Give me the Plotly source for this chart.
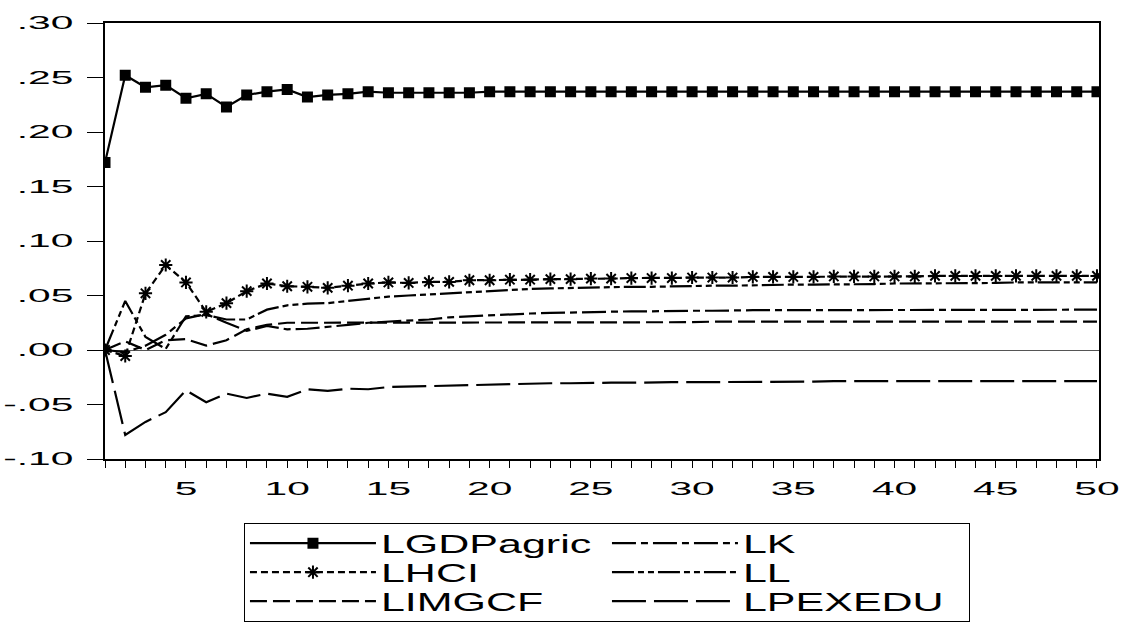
import plotly.graph_objects as go

periods = list(range(1, 51))

lgdpagric = [0.172, 0.252, 0.241, 0.243, 0.231, 0.235, 0.223, 0.234, 0.237, 0.239,
             0.232, 0.234, 0.235, 0.237, 0.236, 0.236, 0.236, 0.236, 0.236, 0.237,
             0.237, 0.237, 0.237, 0.237, 0.237, 0.237, 0.237, 0.237, 0.237, 0.237,
             0.237, 0.237, 0.237, 0.237, 0.237, 0.237, 0.237, 0.237, 0.237, 0.237,
             0.237, 0.237, 0.237, 0.237, 0.237, 0.237, 0.237, 0.237, 0.237, 0.237]

lk = [0.000, -0.002, 0.004, 0.014, 0.029, 0.033, 0.025, 0.0175, 0.022, 0.019,
      0.0195, 0.021, 0.023, 0.025, 0.026, 0.027, 0.028, 0.030, 0.031, 0.032,
      0.033, 0.0335, 0.034, 0.0345, 0.035, 0.035, 0.0355, 0.0355, 0.036, 0.036,
      0.036, 0.0365, 0.0365, 0.0365, 0.0365, 0.037, 0.037, 0.037, 0.037, 0.037,
      0.037, 0.037, 0.037, 0.037, 0.037, 0.037, 0.037, 0.037, 0.037, 0.037]

lhci = [0.000, -0.0055, 0.052, 0.078, 0.062, 0.035, 0.043, 0.054, 0.061, 0.0585,
        0.058, 0.057, 0.059, 0.061, 0.062, 0.0615, 0.0625, 0.0625, 0.064, 0.064,
        0.0645, 0.0645, 0.065, 0.065, 0.0655, 0.0655, 0.066, 0.066, 0.066, 0.0665,
        0.0665, 0.0665, 0.067, 0.067, 0.067, 0.067, 0.0675, 0.0675, 0.0675, 0.0675,
        0.0675, 0.068, 0.068, 0.068, 0.068, 0.068, 0.068, 0.068, 0.068, 0.068]

ll = [0.000, 0.045, 0.012, 0.001, 0.031, 0.032, 0.028, 0.028, 0.037, 0.041,
      0.0425, 0.043, 0.045, 0.047, 0.049, 0.050, 0.051, 0.052, 0.053, 0.054,
      0.0555, 0.056, 0.0565, 0.057, 0.057, 0.0575, 0.058, 0.058, 0.0585, 0.0585,
      0.059, 0.059, 0.0595, 0.0595, 0.060, 0.060, 0.060, 0.0605, 0.0605, 0.061,
      0.061, 0.061, 0.0615, 0.0615, 0.0615, 0.062, 0.062, 0.062, 0.062, 0.062]

limgcf = [0.000, 0.008, 0.000, 0.009, 0.010, 0.004, 0.009, 0.019, 0.023, 0.025,
          0.025, 0.025, 0.025, 0.025, 0.025, 0.025, 0.025, 0.025, 0.0255, 0.0255,
          0.0255, 0.0255, 0.0255, 0.0255, 0.0255, 0.0255, 0.0255, 0.0255, 0.0255, 0.0255,
          0.026, 0.026, 0.026, 0.026, 0.026, 0.026, 0.026, 0.026, 0.026, 0.026,
          0.026, 0.026, 0.026, 0.026, 0.026, 0.026, 0.026, 0.026, 0.026, 0.026]

lpexedu = [0.000, -0.078, -0.066, -0.057, -0.037, -0.048, -0.040, -0.044, -0.040, -0.043,
           -0.036, -0.0375, -0.0355, -0.036, -0.034, -0.0335, -0.033, -0.0325, -0.032, -0.0315,
           -0.031, -0.031, -0.0305, -0.0305, -0.030, -0.030, -0.030, -0.0295, -0.0295, -0.0295,
           -0.0295, -0.029, -0.029, -0.029, -0.029, -0.029, -0.0285, -0.0285, -0.0285, -0.0285,
           -0.0285, -0.0285, -0.0285, -0.0285, -0.0285, -0.0285, -0.0285, -0.0285, -0.0285, -0.0285]

y_tickvals = [-0.10, -0.05, 0.00, 0.05, 0.10, 0.15, 0.20, 0.25, 0.30]
y_ticktext = ["-.10", "-.05", ".00", ".05", ".10", ".15", ".20", ".25", ".30"]

# legend order (row-major in plotly) to mimic the two-column legend
series = [
    ("LGDPagric", lgdpagric, "solid", "square", 9),
    ("LK", lk, "24px,5px,7px,5px", None, 0),
    ("LHCI", lhci, "7px,4px", "asterisk-open", 11),
    ("LL", ll, "22px,4px,6px,4px,6px,4px", None, 0),
    ("LIMGCF", limgcf, "17px,6px", None, 0),
    ("LPEXEDU", lpexedu, "34px,8px", None, 0),
]

fig = go.Figure()
for name, vals, dash, sym, msize in series:
    kw = dict(x=periods, y=vals, name=name,
              line=dict(color="black", width=2.2, dash=dash))
    if sym:
        kw["mode"] = "lines+markers"
        kw["marker"] = dict(symbol=sym, size=msize, color="black",
                            line=dict(color="black", width=2))
    else:
        kw["mode"] = "lines"
    fig.add_trace(go.Scatter(**kw))

fig.update_layout(
    width=1122, height=622,
    margin=dict(l=105, r=23, t=23, b=163, autoexpand=False),
    paper_bgcolor="white", plot_bgcolor="white",
    font=dict(family="Liberation Sans, Arial, sans-serif", color="black"),
    showlegend=True,
    legend=dict(orientation="h", x=0.1398, xanchor="left", y=-0.146, yanchor="top",
                bordercolor="black", borderwidth=1, bgcolor="white",
                font=dict(size=20), itemwidth=126, entrywidth=221,
                entrywidthmode="pixels", traceorder="normal"),
    xaxis=dict(range=[1, 50.1], tick0=0, dtick=5, ticks="outside", ticklen=7,
               tickwidth=1, tickcolor="black", ticklabelstandoff=5,
               minor=dict(dtick=1, tick0=0, ticks="outside", ticklen=7,
                          tickwidth=1, tickcolor="black", showgrid=False),
               showline=True, linecolor="black", linewidth=2, mirror=True,
               showgrid=False, zeroline=False, tickfont=dict(size=18.5)),
    yaxis=dict(range=[-0.10, 0.30], tickmode="array", tickvals=y_tickvals,
               ticktext=y_ticktext, ticks="outside", ticklen=16, tickwidth=1,
               tickcolor="black", ticklabelstandoff=10,
               showline=True, linecolor="black", linewidth=2,
               mirror=True, showgrid=False, zeroline=True, zerolinecolor="#555555",
               zerolinewidth=1, tickfont=dict(size=18.5)),
)

post = """
var gd = document.getElementById('{plot_id}');
function stretch(sel, sx, sy) {
  gd.querySelectorAll(sel).forEach(function(t) {
    var b = t.getBBox();
    var a = t.getAttribute('text-anchor') || 'start';
    var cx = a === 'end' ? b.x + b.width : (a === 'middle' ? b.x + b.width / 2 : b.x);
    var cy = b.y + b.height / 2;
    var tr = t.getAttribute('transform') || '';
    t.setAttribute('transform', tr + ' translate(' + cx + ',' + cy + ') scale(' + sx + ',' + sy + ') translate(' + (-cx) + ',' + (-cy) + ')');
  });
}
stretch('.xtick text', 2.2, 1);
stretch('.ytick text', 2.2, 1);
stretch('.legendtext', 2.15, 1.28);
"""

fig.write_html("out.html", post_script=post)
